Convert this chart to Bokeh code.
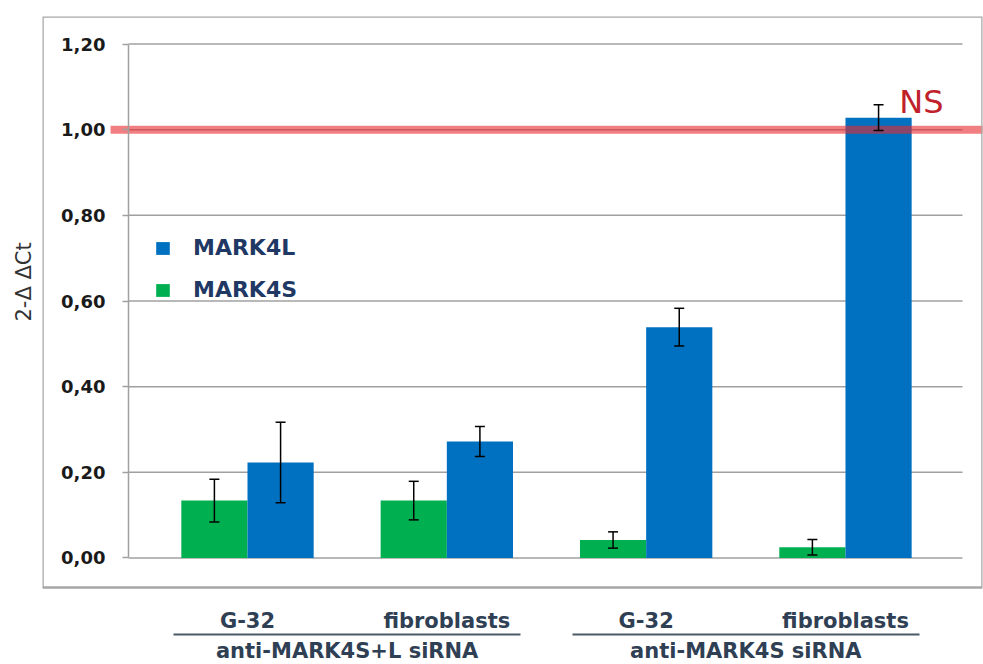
import numpy as np
from bokeh.plotting import figure
from bokeh.models import (ColumnDataSource, Range1d, LinearAxis, FixedTicker,
                          CustomJSTickFormatter, Whisker, TeeHead, Title, BoxAnnotation,
                          Legend, LegendItem)
from bokeh.transform import dodge
from bokeh.core.properties import value
from bokeh.embed import file_html
from bokeh.resources import INLINE

# qPCR relative expression (2^-ddCt) of the two MARK4 isoforms
cells = ["G-32", "fibroblasts", "G-32", "fibroblasts"]
treatments = ["anti-MARK4S+L siRNA", "anti-MARK4S siRNA"]
treatment_of = [0, 0, 1, 1]
mark4s = [0.134, 0.134, 0.042, 0.025]
mark4s_err = [0.050, 0.045, 0.019, 0.018]
mark4l = [0.223, 0.272, 0.539, 1.028]
mark4l_err = [0.094, 0.035, 0.044, 0.030]
y_ticks = [0.0, 0.2, 0.4, 0.6, 0.8, 1.0, 1.2]
ref_level = 1.0
ref_note = "NS"

GREEN = "#00B050"
BLUE = "#0070C0"
GRID = "#a0a0a0"
LABEL = "#2f4054"
FONT = "DejaVu Sans"

# layout in category units (x) and value units (y)
X_VIEW = (-1.0284, 3.6874)      # full width of the drawing area
VALUE_AREA = (-0.597, 3.587)    # where the value axis and grid live
Y_VIEW = (-0.2487, 1.2643)      # down to the bottom of the page
BOX_BOTTOM = -0.0689            # lower edge of the framed panel
RULE_Y = -0.1786                # level of the rules under the cell labels
BAR_W = 0.332

x = np.arange(len(cells))
src = ColumnDataSource(dict(
    x=x,
    s=mark4s, s_lo=np.subtract(mark4s, mark4s_err), s_hi=np.add(mark4s, mark4s_err),
    l=mark4l, l_lo=np.subtract(mark4l, mark4l_err), l_hi=np.add(mark4l, mark4l_err),
))

p = figure(width=983, height=664, output_backend="svg", toolbar_location=None,
           x_range=Range1d(*X_VIEW), y_range=Range1d(*Y_VIEW),
           x_axis_type=None, y_axis_type=None,
           min_border_left=42, min_border_right=1, min_border_top=16, min_border_bottom=0)
p.background_fill_color = "white"
p.border_fill_color = "white"
p.outline_line_color = None

# framed panel around the chart body
p.add_layout(BoxAnnotation(left=X_VIEW[0], right=X_VIEW[1], top=Y_VIEW[1], bottom=BOX_BOTTOM,
                           fill_alpha=0, line_color="#a6a6a6", line_alpha=1, line_width=2.5))

# value axis drawn inside the panel, with comma decimals
yaxis = LinearAxis(ticker=FixedTicker(ticks=y_ticks),
                   formatter=CustomJSTickFormatter(code="return tick.toFixed(2).replace('.', ',')"),
                   bounds=(min(y_ticks), max(y_ticks)), fixed_location=VALUE_AREA[0])
yaxis.axis_line_color = GRID
yaxis.axis_line_width = 1.5
yaxis.major_tick_line_color = GRID
yaxis.major_tick_line_width = 1.5
yaxis.major_tick_out = 6
yaxis.major_tick_in = 0
yaxis.minor_tick_line_color = None
yaxis.major_label_standoff = 17
yaxis.major_label_text_font = FONT
yaxis.major_label_text_font_style = "bold"
yaxis.major_label_text_font_size = "18px"
yaxis.major_label_text_color = "#1a1a1a"
p.add_layout(yaxis, "left")

p.add_layout(Title(text="2-Δ ΔCt", align="left", offset=343, standoff=14,
                   text_font=FONT, text_font_style="normal", text_font_size="21px",
                   text_color="#333333"), "left")

# horizontal grid across the value area
p.segment(x0=VALUE_AREA[0], x1=VALUE_AREA[1], y0=y_ticks, y1=y_ticks,
          line_color=GRID, line_width=1.5)

# cell-line labels under the panel
cell_axis = LinearAxis(ticker=FixedTicker(ticks=list(x)), fixed_location=BOX_BOTTOM,
                       formatter=CustomJSTickFormatter(args=dict(labels=cells),
                                                       code="return labels[Math.round(tick)]"))
axes = [(cell_axis, 22, None, None)]
# treatment labels, each with a rule spanning its cell lines
for g, name in enumerate(treatments):
    idx = [i for i, t in enumerate(treatment_of) if t == g]
    ax = LinearAxis(ticker=FixedTicker(ticks=[float(np.mean(idx))]), fixed_location=RULE_Y,
                    bounds=(min(idx) - 0.37, max(idx) + 0.37),
                    formatter=CustomJSTickFormatter(args=dict(name=name), code="return name"))
    axes.append((ax, 5, "#4a5868", 2))
for ax, standoff, line_color, line_width in axes:
    ax.axis_line_color = line_color
    if line_width:
        ax.axis_line_width = line_width
    ax.major_tick_line_color = None
    ax.minor_tick_line_color = None
    ax.major_tick_out = 0
    ax.major_tick_in = 0
    ax.minor_tick_out = 0
    ax.major_label_standoff = standoff
    ax.major_label_text_font = FONT
    ax.major_label_text_font_style = "bold"
    ax.major_label_text_font_size = "21px"
    ax.major_label_text_color = LABEL
    p.add_layout(ax, "below")

green = p.vbar(x=dodge("x", -BAR_W / 2), width=BAR_W, top="s", bottom=0, source=src,
               fill_color=GREEN, line_color=None)
blue = p.vbar(x=dodge("x", BAR_W / 2), width=BAR_W, top="l", bottom=0, source=src,
              fill_color=BLUE, line_color=None)

# reference level (control = 1), running past the value area
p.segment(x0=VALUE_AREA[0] - 0.09, x1=X_VIEW[1] + 0.1, y0=ref_level, y1=ref_level,
          line_color="#e8282d", line_alpha=0.6, line_width=8)
p.text(x=[x[-1] + 0.27], y=[ref_level + 0.065], text=[ref_note],
       text_font=value(FONT), text_font_size="32px", text_color="#c0202a",
       text_baseline="alphabetic", text_align="left")

for off, lo, hi in ((-BAR_W / 2, "s_lo", "s_hi"), (BAR_W / 2, "l_lo", "l_hi")):
    p.add_layout(Whisker(source=src, base=dodge("x", off), lower=lo, upper=hi,
                         level="annotation", line_color="black", line_width=1.5,
                         upper_head=TeeHead(size=10, line_color="black", line_width=1.5),
                         lower_head=TeeHead(size=10, line_color="black", line_width=1.5)))

legend = Legend(items=[LegendItem(label="MARK4L", renderers=[blue]),
                       LegendItem(label="MARK4S", renderers=[green])],
                location=(112, 362), orientation="vertical",
                glyph_width=17, glyph_height=16, label_standoff=22, spacing=17,
                padding=0, margin=0, border_line_color=None, background_fill_alpha=0,
                label_text_font=FONT, label_text_font_style="bold",
                label_text_font_size="22px", label_text_color="#1f3864")
p.add_layout(legend)

open("out.html", "w").write(file_html(p, INLINE))
